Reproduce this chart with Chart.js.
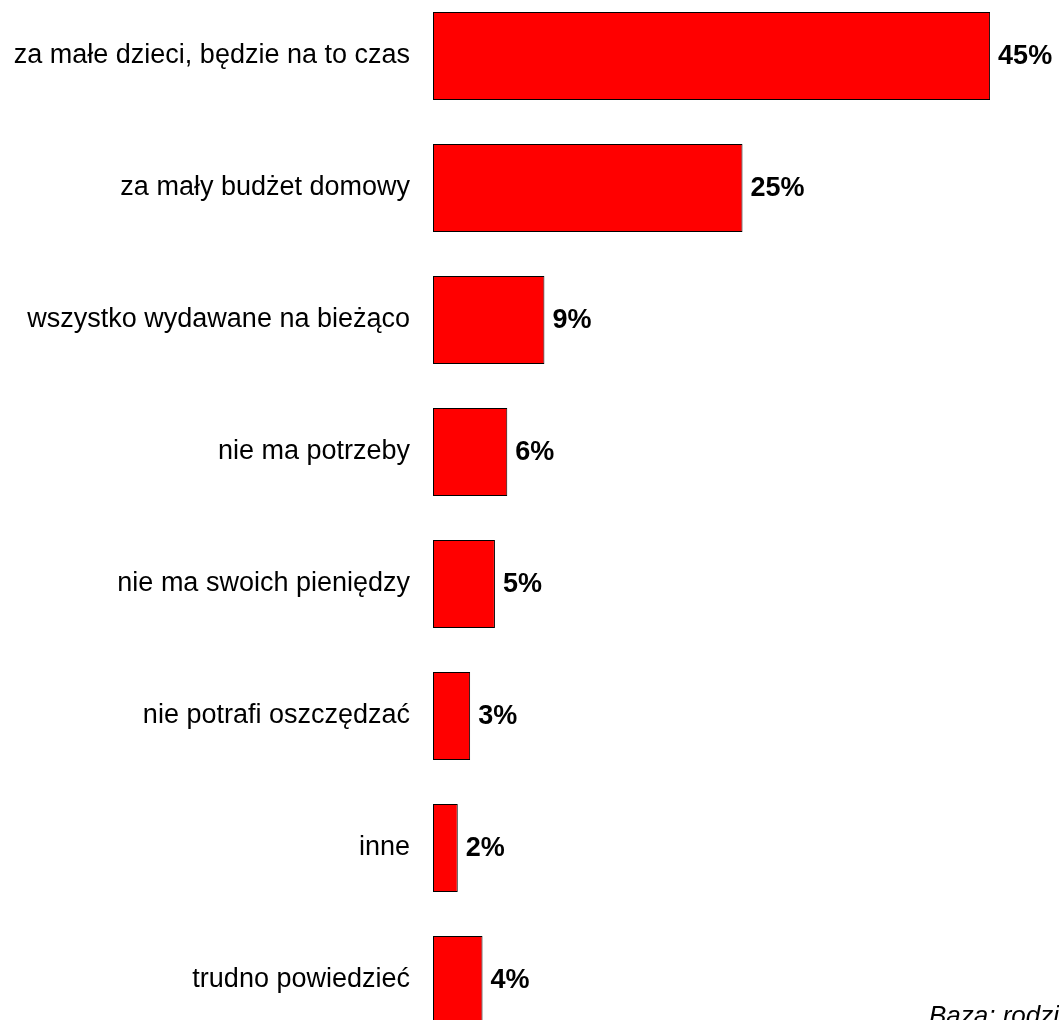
<!DOCTYPE html>
<html>
<head>
<meta charset="utf-8">
<script src="https://cdn.jsdelivr.net/npm/chart.js@4"></script>
<style>
    html, body { margin: 0; padding: 0; background: #fff; overflow: hidden; }
    body { width: 1059px; height: 1020px; position: relative; }
    #barChart { position: absolute; left: 0; top: -10px; }
    #note {
        position: absolute; left: 929px; top: 1000px;
        font: italic 26px "Liberation Sans", Arial, sans-serif;
        color: #000; white-space: nowrap;
    }
</style>
</head>
<body>
<canvas id="barChart" width="1059" height="1056"></canvas>
<div id="note">Baza: rodzice</div>
<script>
const categories = [
    'za małe dzieci, będzie na to czas',
    'za mały budżet domowy',
    'wszystko wydawane na bieżąco',
    'nie ma potrzeby',
    'nie ma swoich pieniędzy',
    'nie potrafi oszczędzać',
    'inne',
    'trudno powiedzieć'
];
const values = [45, 25, 9, 6, 5, 3, 2, 4];

const FONT = '"Liberation Sans", Arial, sans-serif';

// value labels to the right of each bar
const valueLabels = {
    id: 'valueLabels',
    afterDatasetsDraw(chart) {
        const ctx = chart.ctx;
        const meta = chart.getDatasetMeta(0);
        ctx.save();
        ctx.font = 'bold 27px ' + FONT;
        ctx.fillStyle = '#000';
        ctx.textBaseline = 'middle';
        ctx.textAlign = 'left';
        meta.data.forEach((bar, i) => {
            ctx.fillText(values[i] + '%', bar.x + 8, bar.y + 1);
        });
        ctx.restore();
    }
};

window.onload = function() {
    const ctx = document.getElementById('barChart').getContext('2d');
    new Chart(ctx, {
        type: 'bar',
        data: {
            labels: categories,
            datasets: [{
                data: values,
                backgroundColor: '#ff0000',
                borderColor: '#000000',
                borderWidth: 1,
                borderSkipped: false,
                barPercentage: 0.667,
                categoryPercentage: 1
            }]
        },
        options: {
            indexAxis: 'y',
            responsive: false,
            animation: false,
            layout: { padding: { left: 0, right: 7, top: 0, bottom: 0 }, autoPadding: false },
            plugins: {
                legend: { display: false },
                tooltip: { enabled: false }
            },
            scales: {
                x: {
                    display: false,
                    min: 0,
                    max: 50
                },
                y: {
                    grid: { display: false, drawTicks: false },
                    border: { display: false },
                    ticks: {
                        color: '#000',
                        font: { family: FONT, size: 27 },
                        padding: 23
                    },
                    afterFit(scale) {
                        scale.width = 433;
                        // drop the half-label padding so categories fill the full height
                        scale.paddingTop = 0;
                        scale.paddingBottom = 0;
                    }
                }
            }
        },
        plugins: [valueLabels]
    });
};
</script>
</body>
</html>
